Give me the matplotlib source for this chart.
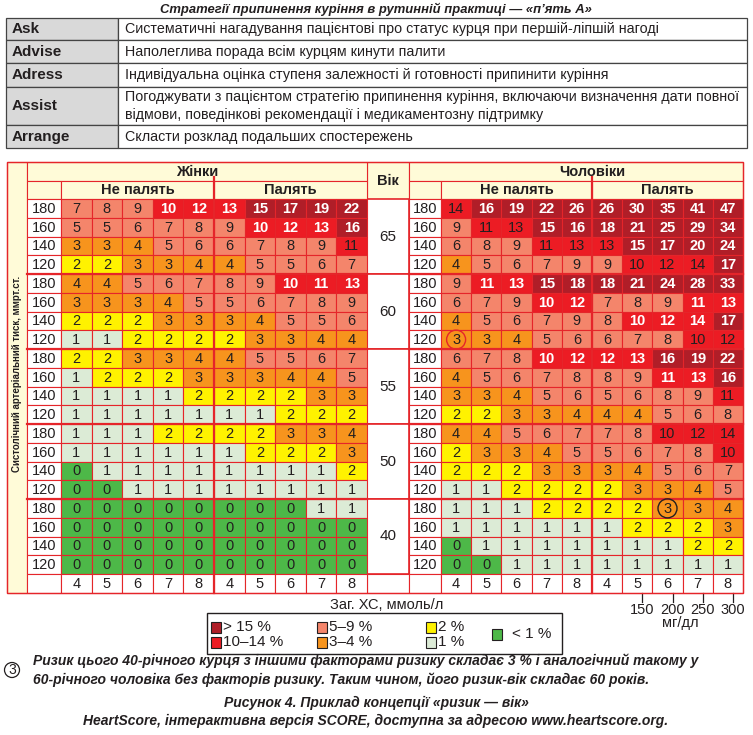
import matplotlib
matplotlib.use("Agg")
import matplotlib.pyplot as plt
from matplotlib.patches import Rectangle, Circle

plt.rcParams['font.family'] = ['Liberation Sans Narrow', 'Liberation Sans', 'DejaVu Sans']

# ---- дані ----
title = "Стратегії припинення куріння в рутинній практиці — «п’ять А»"
strategy_names = ["Ask", "Advise", "Adress", "Assist", "Arrange"]
strategy_texts = [
    "Систематичні нагадування пацієнтові про статус курця при першій-ліпшій нагоді",
    "Наполеглива порада всім курцям кинути палити",
    "Індивідуальна оцінка ступеня залежності й готовності припинити куріння",
    "Погоджувати з пацієнтом стратегію припинення куріння, включаючи визначення дати повної\n"
    "відмови, поведінкові рекомендації і медикаментозну підтримку",
    "Скласти розклад подальших спостережень",
]

ages = [65, 60, 55, 50, 40]
bp_levels = [180, 160, 140, 120]
chol_mmol = [4, 5, 6, 7, 8]
chol_mg = [150, 200, 250, 300]

# 20 рядків (5 вікових груп x 4 рівні АТ), 10 стовпців: не палять (4..8) | палять (4..8)
women = [
    [7, 8, 9, 10, 12, 13, 15, 17, 19, 22],
    [5, 5, 6, 7, 8, 9, 10, 12, 13, 16],
    [3, 3, 4, 5, 6, 6, 7, 8, 9, 11],
    [2, 2, 3, 3, 4, 4, 5, 5, 6, 7],
    [4, 4, 5, 6, 7, 8, 9, 10, 11, 13],
    [3, 3, 3, 4, 5, 5, 6, 7, 8, 9],
    [2, 2, 2, 3, 3, 3, 4, 5, 5, 6],
    [1, 1, 2, 2, 2, 2, 3, 3, 4, 4],
    [2, 2, 3, 3, 4, 4, 5, 5, 6, 7],
    [1, 2, 2, 2, 3, 3, 3, 4, 4, 5],
    [1, 1, 1, 1, 2, 2, 2, 2, 3, 3],
    [1, 1, 1, 1, 1, 1, 1, 2, 2, 2],
    [1, 1, 1, 2, 2, 2, 2, 3, 3, 4],
    [1, 1, 1, 1, 1, 1, 2, 2, 2, 3],
    [0, 1, 1, 1, 1, 1, 1, 1, 1, 2],
    [0, 0, 1, 1, 1, 1, 1, 1, 1, 1],
    [0, 0, 0, 0, 0, 0, 0, 0, 1, 1],
    [0, 0, 0, 0, 0, 0, 0, 0, 0, 0],
    [0, 0, 0, 0, 0, 0, 0, 0, 0, 0],
    [0, 0, 0, 0, 0, 0, 0, 0, 0, 0],
]
men = [
    [14, 16, 19, 22, 26, 26, 30, 35, 41, 47],
    [9, 11, 13, 15, 16, 18, 21, 25, 29, 34],
    [6, 8, 9, 11, 13, 13, 15, 17, 20, 24],
    [4, 5, 6, 7, 9, 9, 10, 12, 14, 17],
    [9, 11, 13, 15, 18, 18, 21, 24, 28, 33],
    [6, 7, 9, 10, 12, 7, 8, 9, 11, 13],
    [4, 5, 6, 7, 9, 8, 10, 12, 14, 17],
    [3, 3, 4, 5, 6, 6, 7, 8, 10, 12],
    [6, 7, 8, 10, 12, 12, 13, 16, 19, 22],
    [4, 5, 6, 7, 8, 8, 9, 11, 13, 16],
    [3, 3, 4, 5, 6, 5, 6, 8, 9, 11],
    [2, 2, 3, 3, 4, 4, 4, 5, 6, 8],
    [4, 4, 5, 6, 7, 7, 8, 10, 12, 14],
    [2, 3, 3, 4, 5, 5, 6, 7, 8, 10],
    [2, 2, 2, 3, 3, 3, 4, 5, 6, 7],
    [1, 1, 2, 2, 2, 2, 3, 3, 4, 5],
    [1, 1, 1, 2, 2, 2, 2, 3, 3, 4],
    [1, 1, 1, 1, 1, 1, 2, 2, 2, 3],
    [0, 1, 1, 1, 1, 1, 1, 1, 2, 2],
    [0, 0, 1, 1, 1, 1, 1, 1, 1, 1],
]
# червоні клітинки, де цифри темні (як в оригіналі)
dark_women = [(2, 9)]
dark_men = [(0, 0), (1, 1), (1, 2), (2, 3), (2, 4), (2, 5), (3, 6), (3, 7), (3, 8),
            (7, 8), (7, 9), (10, 9), (12, 7), (12, 8), (12, 9), (13, 9)]
# обведені приклади: (рядок, стовпець, колір)
circled_men = [(7, 0, '#e5252a'), (16, 7, '#231f20')]

legend_labels = ["> 15 %", "10–14 %", "5–9 %", "3–4 %", "2 %", "1 %", "< 1 %"]

caption1 = ("Ризик цього 40-річного курця з іншими факторами ризику складає 3 % і аналогічний такому у\n"
            "60-річного чоловіка без факторів ризику. Таким чином, його ризик-вік складає 60 років.")
caption2 = "Рисунок 4. Приклад концепції «ризик — вік»"
caption3 = "HeartScore, інтерактивна версія SCORE, доступна за адресою www.heartscore.org."

# ---- кольори ----
C_DARKRED = '#b01e28'
C_RED = '#ec1c24'
C_SALMON = '#f4856b'
C_ORANGE = '#f7941d'
C_YELLOW = '#fff200'
C_LIGHT = '#dcebd6'
C_GREEN = '#4db848'
C_CREAM = '#fffbd8'
C_LINE = '#e5252a'
C_TEXT = '#231f20'
legend_colors = [C_DARKRED, C_RED, C_SALMON, C_ORANGE, C_YELLOW, C_LIGHT, C_GREEN]
NUM_FONT = ['Liberation Sans', 'DejaVu Sans']


def risk_color(v):
    if v >= 15:
        return C_DARKRED
    if v >= 10:
        return C_RED
    if v >= 5:
        return C_SALMON
    if v >= 3:
        return C_ORANGE
    if v == 2:
        return C_YELLOW
    if v == 1:
        return C_LIGHT
    return C_GREEN


fig = plt.figure(figsize=(7.53, 7.35), dpi=100)
ax = fig.add_axes([0, 0, 1, 1])
ax.set_xlim(0, 753)
ax.set_ylim(735, 0)
ax.axis('off')


def box(x, y, w, h, fc, ec=C_LINE, lw=0.8, z=1):
    ax.add_patch(Rectangle((x, y), w, h, facecolor=fc, edgecolor=ec, linewidth=lw, zorder=z))


# ---- верхня таблиця ----
ax.text(376, 9, title, ha='center', va='center', fontsize=9.4, fontweight='bold', style='italic', color=C_TEXT)
row_edges = [18, 40, 63, 87, 125, 148]
tx0, tsplit, tx1 = 6, 118, 747
for i, (name, txt) in enumerate(zip(strategy_names, strategy_texts)):
    y0, y1 = row_edges[i], row_edges[i + 1]
    box(tx0, y0, tsplit - tx0, y1 - y0, '#d9d9d9', ec='#444444', lw=0.9)
    box(tsplit, y0, tx1 - tsplit, y1 - y0, 'white', ec='#444444', lw=0.9)
    ym = (y0 + y1) / 2
    ax.text(tx0 + 6, ym, name, ha='left', va='center', fontsize=11, fontweight='bold', color=C_TEXT)
    ax.text(tsplit + 7, ym, txt, ha='left', va='center', fontsize=10.3, color=C_TEXT, linespacing=1.3)

# ---- таблиця SCORE ----
top, h1, h2 = 162, 19, 18
row_top, row_h = 199, 18.75
n_rows = len(ages) * len(bp_levels)
bottom_rows = row_top + n_rows * row_h
chol_h = 19
frame_bottom = bottom_rows + chol_h

strip_x0, strip_x1 = 7, 27
blocks = [
    dict(name="Жінки", data=women, dark=dark_women, bp_x0=27, x0=61, cw=30.6, title_x=197, circles=[]),
    dict(name="Чоловіки", data=men, dark=dark_men, bp_x0=409, x0=441, cw=30.2, title_x=592, circles=circled_men),
]
age_x0, age_x1 = 367, 409

# ліва смуга з підписом осі
box(strip_x0, top, strip_x1 - strip_x0, frame_bottom - top, C_CREAM)
ax.text((strip_x0 + strip_x1) / 2 + 0.5, 374, "Систолічний артеріальний тиск, ммрт.ст.", rotation=90,
        ha='center', va='center', fontsize=7, fontweight='bold', color=C_TEXT)

# колонка «Вік»
box(age_x0, top, age_x1 - age_x0, h1 + h2, C_CREAM)
ax.text((age_x0 + age_x1) / 2, top + (h1 + h2) / 2, "Вік", ha='center', va='center',
        fontsize=10.5, fontweight='bold', family=NUM_FONT, color=C_TEXT)
for g, age in enumerate(ages):
    gy = row_top + g * len(bp_levels) * row_h
    box(age_x0, gy, age_x1 - age_x0, len(bp_levels) * row_h, 'white', lw=1.2)
    ax.text((age_x0 + age_x1) / 2, gy + len(bp_levels) * row_h / 2, str(age), ha='center', va='center',
            fontsize=11, family=NUM_FONT, color=C_TEXT)
box(age_x0, bottom_rows, age_x1 - age_x0, chol_h, 'white')

for b in blocks:
    x0, cw, bp0 = b['x0'], b['cw'], b['bp_x0']
    half = x0 + 5 * cw
    x_end = x0 + 10 * cw
    # заголовки
    box(bp0, top, x_end - bp0, h1, C_CREAM)
    ax.text(b['title_x'], top + h1 / 2, b['name'], ha='center', va='center', fontsize=10.5,
            fontweight='bold', family=NUM_FONT, color=C_TEXT)
    box(bp0, top + h1, x0 - bp0, h2, C_CREAM)
    box(x0, top + h1, 5 * cw, h2, C_CREAM)
    box(half, top + h1, 5 * cw, h2, C_CREAM)
    ax.text(x0 + 2.5 * cw, top + h1 + h2 / 2, "Не палять", ha='center', va='center', fontsize=10.5,
            fontweight='bold', family=NUM_FONT, color=C_TEXT)
    ax.text(half + 2.5 * cw, top + h1 + h2 / 2, "Палять", ha='center', va='center', fontsize=10.5,
            fontweight='bold', family=NUM_FONT, color=C_TEXT)
    # клітинки
    for r, row in enumerate(b['data']):
        y = row_top + r * row_h
        box(bp0, y, x0 - bp0, row_h, 'white')
        ax.text((bp0 + x0) / 2, y + row_h / 2 + 0.5, str(bp_levels[r % len(bp_levels)]), ha='center',
                va='center', fontsize=10.5, family=NUM_FONT, color=C_TEXT)
        for c, v in enumerate(row):
            box(x0 + c * cw, y, cw, row_h, risk_color(v))
            white = v >= 10 and (r, c) not in b['dark']
            ax.text(x0 + (c + 0.5) * cw, y + row_h / 2 + 0.5, str(v), ha='center', va='center',
                    fontsize=10.5, family=NUM_FONT, fontweight='bold' if white else 'normal',
                    color='white' if white else C_TEXT, zorder=3)
    # межі вікових груп
    for g in range(1, len(ages)):
        gy = row_top + g * len(bp_levels) * row_h
        ax.plot([bp0, x_end], [gy, gy], color=C_LINE, lw=1.6, zorder=2)
    # рядок холестерину
    box(bp0, bottom_rows, x0 - bp0, chol_h, 'white')
    for c in range(10):
        box(x0 + c * cw, bottom_rows, cw, chol_h, 'white')
        ax.text(x0 + (c + 0.5) * cw, bottom_rows + chol_h / 2 + 0.5, str(chol_mmol[c % 5]), ha='center',
                va='center', fontsize=10.5, family=NUM_FONT, color=C_TEXT)
    ax.plot([half, half], [top + h1 - 4, frame_bottom], color=C_LINE, lw=1.6, zorder=2)
    for (r, c, col) in b['circles']:
        ax.add_patch(Circle((x0 + (c + 0.5) * cw, row_top + (r + 0.5) * row_h), 9.5, fill=False,
                            edgecolor=col, linewidth=1.0, zorder=4))

# зовнішня рамка
ax.add_patch(Rectangle((strip_x0, top), 743 - strip_x0, frame_bottom - top, fill=False,
                       edgecolor=C_LINE, linewidth=1.0, zorder=5))

# шкала мг/дл під чоловіками (курці)
men_b = blocks[1]
for k, mg in enumerate(chol_mg):
    tx = men_b['x0'] + 5 * men_b['cw'] + (k + 1 + 0.67) * men_b['cw']
    ax.plot([tx, tx], [frame_bottom, frame_bottom + 9], color=C_TEXT, lw=0.9)
    ax.text(tx, frame_bottom + 17, str(mg), ha='center', va='center', fontsize=10.5, color=C_TEXT)
ax.text(680, frame_bottom + 30, "мг/дл", ha='center', va='center', fontsize=10.5, color=C_TEXT)

ax.text(387, 605, "Заг. ХС, ммоль/л", ha='center', va='center', fontsize=10.5, color=C_TEXT)

# легенда
ax.add_patch(Rectangle((207, 613), 355, 41, fill=False, edgecolor=C_TEXT, linewidth=1.0))
leg_pos = [(211, 627), (211, 642), (317, 627), (317, 642), (426, 627), (426, 642), (492, 634)]
for (lx, ly), lab, col in zip(leg_pos, legend_labels, legend_colors):
    ax.add_patch(Rectangle((lx, ly - 5.5), 10, 11, facecolor=col, edgecolor=C_TEXT, linewidth=0.8))
    ax.text(lx + 12 if lab != "< 1 %" else lx + 20, ly, lab, ha='left', va='center', fontsize=11, color=C_TEXT)

# підписи внизу
ax.add_patch(Circle((12, 670), 7.5, fill=False, edgecolor=C_TEXT, linewidth=0.9))
ax.text(12, 670.5, "3", ha='center', va='center', fontsize=10, color=C_TEXT)
ax.text(33, 670, caption1, ha='left', va='center', fontsize=10, fontweight='bold', style='italic',
        color=C_TEXT, linespacing=1.35)
ax.text(376, 703, caption2, ha='center', va='center', fontsize=10, fontweight='bold', style='italic', color=C_TEXT)
ax.text(376, 721, caption3, ha='center', va='center', fontsize=10, fontweight='bold', style='italic', color=C_TEXT)

fig.savefig("out.png", dpi=100)
